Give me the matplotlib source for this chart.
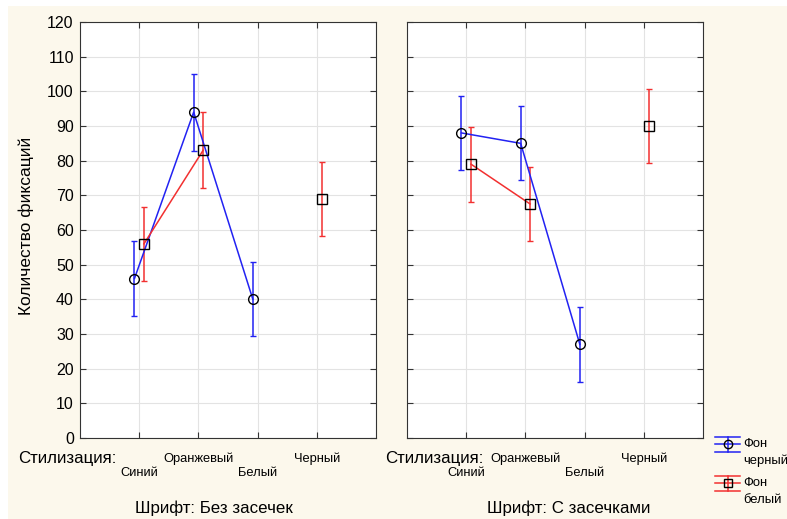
import numpy as np
import matplotlib.pyplot as plt
from matplotlib.patches import Rectangle
from matplotlib.lines import Line2D

plt.rcParams['font.family'] = ['Liberation Sans', 'DejaVu Sans']

categories = ["Синий", "Оранжевый", "Белый", "Черный"]
panels = ["Шрифт: Без засечек", "Шрифт: С засечками"]

# mean and half-width of error bar, per panel
black_bg = [[46, 94, 40, np.nan], [88, 85, 27, np.nan]]
black_err = [[10.8, 11.1, 10.7, np.nan], [10.6, 10.7, 10.8, np.nan]]
white_bg = [[56, 83, np.nan, 69], [79, 67.5, np.nan, 90]]
white_err = [[10.6, 11.0, np.nan, 10.7], [10.8, 10.6, np.nan, 10.6]]

W, H = 787, 519
fig = plt.figure(figsize=(W / 100, H / 100), dpi=100)
fig.patch.set_facecolor("white")
fig.patches.append(Rectangle((8 / W, 0), 1, (H - 6) / H, transform=fig.transFigure,
                             facecolor="#fcf8ec", edgecolor="none", zorder=-10))

blue = "#2222f2"
red = "#f23030"
x = np.arange(1, 5)
lefts = [80, 407]
label_centers = [214, 569]
stil_x = [18, 385]

for i in range(2):
    ax = fig.add_axes([lefts[i] / W, (H - 438) / H, 296 / W, 416 / H])
    ax.set_facecolor("white")
    ax.errorbar(x - 0.08, black_bg[i], yerr=black_err[i], color=blue, lw=1.1,
                elinewidth=1.1, capsize=2.5, capthick=1.1, marker="o", ms=7,
                mfc="none", mec="black", mew=1.0)
    ax.errorbar(x + 0.08, white_bg[i], yerr=white_err[i], color=red, lw=1.1,
                elinewidth=1.1, capsize=2.5, capthick=1.1, marker="s", ms=7,
                mfc="none", mec="black", mew=1.0)
    ax.set_xlim(0, 5)
    ax.set_ylim(0, 120)
    ax.set_yticks(range(0, 121, 10))
    ax.set_xticks(x)
    ax.set_xticklabels([])
    ax.grid(True, color="#e3e3e3", lw=0.8)
    ax.set_axisbelow(True)
    ax.tick_params(direction="in", top=True, right=True, length=4, color="#333333",
                   labelsize=11.5, pad=4.5)
    for s in ax.spines.values():
        s.set_color("#333333")
    if i == 0:
        ax.set_ylabel("Количество фиксаций", fontsize=12.5)
        ax.yaxis.set_label_coords(-0.155, 0.51)
    else:
        ax.set_yticklabels([])
    tr = ax.get_xaxis_transform()
    for k, cat in enumerate(categories):
        yy = -0.085 if k % 2 == 0 else -0.051
        ax.text(x[k], yy, cat, transform=tr, ha="center", va="center", fontsize=9.3)
    fig.text(stil_x[i] / W, 1 - 458 / H, "Стилизация:", ha="left", va="center",
             fontsize=12.2)
    fig.text(label_centers[i] / W, 1 - 508 / H, panels[i], ha="center", va="center",
             fontsize=12.2)

# legend drawn by hand to get the long-capped error bar glyph
legend_items = [(blue, "o", 444, "Фон", "черный"), (red, "s", 483, "Фон", "белый")]
for color, mk, yc, line1, line2 in legend_items:
    for dy in (-7.5, 0, 7.5):
        fig.add_artist(Line2D([715 / W, 740 / W], [1 - (yc + dy) / H] * 2,
                              color=color, lw=1.1, transform=fig.transFigure))
    fig.add_artist(Line2D([727.5 / W, 727.5 / W], [1 - (yc - 7.5) / H, 1 - (yc + 7.5) / H],
                          color=color, lw=1.1, transform=fig.transFigure))
    fig.add_artist(Line2D([727.5 / W], [1 - yc / H], marker=mk, ms=6, mfc="none",
                          mec="black", mew=1.0, transform=fig.transFigure))
    fig.text(743 / W, 1 - yc / H, line1, ha="left", va="center", fontsize=9.4)
    fig.text(743 / W, 1 - (yc + 17) / H, line2, ha="left", va="center", fontsize=9.4)

fig.savefig("out.png", dpi=100)
